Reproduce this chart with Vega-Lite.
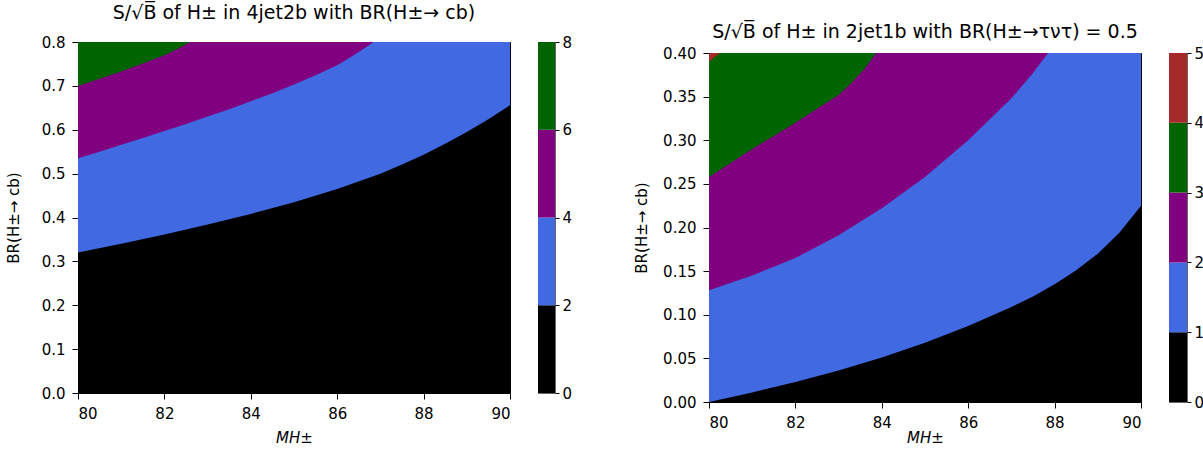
{
  "$schema": "https://vega.github.io/schema/vega-lite/v6.json",
  "padding": {"left": 5, "top": 3, "right": 0, "bottom": 0},
  "config": {
    "font": "DejaVu Sans",
    "view": {"stroke": "black", "strokeWidth": 1},
    "axis": {
      "grid": false, "domain": false,
      "labelFont": "DejaVu Sans", "labelFontSize": 15, "labelColor": "black",
      "titleFont": "DejaVu Sans", "titleFontSize": 15, "titleFontWeight": "normal", "titleColor": "black",
      "tickColor": "black", "tickSize": 6, "labelPadding": 7
    },
    "title": {"font": "DejaVu Sans", "fontSize": 19, "fontWeight": "normal", "color": "black"}
  },
  "datasets": {
    "contours": [
      {"panel": "A", "tier": 3, "M": 80, "br": 0.8},
      {"panel": "A", "tier": 3, "M": 90, "br": 0.8},
      {"panel": "A", "tier": 2, "M": 80, "br": 0.700},
      {"panel": "A", "tier": 2, "M": 80.5, "br": 0.716},
      {"panel": "A", "tier": 2, "M": 81, "br": 0.733},
      {"panel": "A", "tier": 2, "M": 81.5, "br": 0.751},
      {"panel": "A", "tier": 2, "M": 82, "br": 0.770},
      {"panel": "A", "tier": 2, "M": 82.3, "br": 0.784},
      {"panel": "A", "tier": 2, "M": 82.6, "br": 0.800},
      {"panel": "A", "tier": 2, "M": 90, "br": 0.800},
      {"panel": "A", "tier": 1, "M": 80, "br": 0.535},
      {"panel": "A", "tier": 1, "M": 80.5, "br": 0.550},
      {"panel": "A", "tier": 1, "M": 81, "br": 0.566},
      {"panel": "A", "tier": 1, "M": 81.5, "br": 0.581},
      {"panel": "A", "tier": 1, "M": 82, "br": 0.597},
      {"panel": "A", "tier": 1, "M": 82.5, "br": 0.613},
      {"panel": "A", "tier": 1, "M": 83, "br": 0.630},
      {"panel": "A", "tier": 1, "M": 83.5, "br": 0.647},
      {"panel": "A", "tier": 1, "M": 84, "br": 0.665},
      {"panel": "A", "tier": 1, "M": 84.5, "br": 0.683},
      {"panel": "A", "tier": 1, "M": 85, "br": 0.703},
      {"panel": "A", "tier": 1, "M": 85.5, "br": 0.724},
      {"panel": "A", "tier": 1, "M": 86, "br": 0.747},
      {"panel": "A", "tier": 1, "M": 86.4, "br": 0.771},
      {"panel": "A", "tier": 1, "M": 86.85, "br": 0.800},
      {"panel": "A", "tier": 1, "M": 90, "br": 0.800},
      {"panel": "A", "tier": 0, "M": 80, "br": 0.320},
      {"panel": "A", "tier": 0, "M": 81, "br": 0.340},
      {"panel": "A", "tier": 0, "M": 82, "br": 0.361},
      {"panel": "A", "tier": 0, "M": 83, "br": 0.384},
      {"panel": "A", "tier": 0, "M": 84, "br": 0.408},
      {"panel": "A", "tier": 0, "M": 85, "br": 0.435},
      {"panel": "A", "tier": 0, "M": 86, "br": 0.465},
      {"panel": "A", "tier": 0, "M": 87, "br": 0.500},
      {"panel": "A", "tier": 0, "M": 87.5, "br": 0.521},
      {"panel": "A", "tier": 0, "M": 88, "br": 0.543},
      {"panel": "A", "tier": 0, "M": 88.5, "br": 0.568},
      {"panel": "A", "tier": 0, "M": 89, "br": 0.595},
      {"panel": "A", "tier": 0, "M": 89.5, "br": 0.624},
      {"panel": "A", "tier": 0, "M": 90, "br": 0.656},
      {"panel": "B", "tier": 4, "M": 80, "br": 0.4},
      {"panel": "B", "tier": 4, "M": 90, "br": 0.4},
      {"panel": "B", "tier": 3, "M": 80, "br": 0.390},
      {"panel": "B", "tier": 3, "M": 80.25, "br": 0.400},
      {"panel": "B", "tier": 3, "M": 90, "br": 0.400},
      {"panel": "B", "tier": 2, "M": 80, "br": 0.258},
      {"panel": "B", "tier": 2, "M": 80.5, "br": 0.274},
      {"panel": "B", "tier": 2, "M": 81, "br": 0.290},
      {"panel": "B", "tier": 2, "M": 81.5, "br": 0.305},
      {"panel": "B", "tier": 2, "M": 82, "br": 0.320},
      {"panel": "B", "tier": 2, "M": 82.5, "br": 0.336},
      {"panel": "B", "tier": 2, "M": 83, "br": 0.352},
      {"panel": "B", "tier": 2, "M": 83.3, "br": 0.366},
      {"panel": "B", "tier": 2, "M": 83.6, "br": 0.382},
      {"panel": "B", "tier": 2, "M": 83.87, "br": 0.400},
      {"panel": "B", "tier": 2, "M": 90, "br": 0.400},
      {"panel": "B", "tier": 1, "M": 80, "br": 0.128},
      {"panel": "B", "tier": 1, "M": 81, "br": 0.145},
      {"panel": "B", "tier": 1, "M": 82, "br": 0.165},
      {"panel": "B", "tier": 1, "M": 83, "br": 0.191},
      {"panel": "B", "tier": 1, "M": 84, "br": 0.222},
      {"panel": "B", "tier": 1, "M": 85, "br": 0.258},
      {"panel": "B", "tier": 1, "M": 86, "br": 0.300},
      {"panel": "B", "tier": 1, "M": 87, "br": 0.348},
      {"panel": "B", "tier": 1, "M": 87.5, "br": 0.377},
      {"panel": "B", "tier": 1, "M": 87.85, "br": 0.400},
      {"panel": "B", "tier": 1, "M": 90, "br": 0.400},
      {"panel": "B", "tier": 0, "M": 80, "br": 0.000},
      {"panel": "B", "tier": 0, "M": 81, "br": 0.011},
      {"panel": "B", "tier": 0, "M": 82, "br": 0.023},
      {"panel": "B", "tier": 0, "M": 83, "br": 0.036},
      {"panel": "B", "tier": 0, "M": 84, "br": 0.051},
      {"panel": "B", "tier": 0, "M": 85, "br": 0.068},
      {"panel": "B", "tier": 0, "M": 86, "br": 0.087},
      {"panel": "B", "tier": 0, "M": 87, "br": 0.109},
      {"panel": "B", "tier": 0, "M": 87.5, "br": 0.121},
      {"panel": "B", "tier": 0, "M": 88, "br": 0.135},
      {"panel": "B", "tier": 0, "M": 88.5, "br": 0.151},
      {"panel": "B", "tier": 0, "M": 89, "br": 0.170},
      {"panel": "B", "tier": 0, "M": 89.5, "br": 0.194},
      {"panel": "B", "tier": 0, "M": 90, "br": 0.225}
    ],
    "colorbar": [
      {"panel": "A", "tier": 0, "lo": 0, "hi": 2},
      {"panel": "A", "tier": 1, "lo": 2, "hi": 4},
      {"panel": "A", "tier": 2, "lo": 4, "hi": 6},
      {"panel": "A", "tier": 3, "lo": 6, "hi": 8},
      {"panel": "B", "tier": 0, "lo": 0, "hi": 1},
      {"panel": "B", "tier": 1, "lo": 1, "hi": 2},
      {"panel": "B", "tier": 2, "lo": 2, "hi": 3},
      {"panel": "B", "tier": 3, "lo": 3, "hi": 4},
      {"panel": "B", "tier": 4, "lo": 4, "hi": 5}
    ]
  },
  "spacing": 61,
  "hconcat": [
    {
      "bounds": "flush",
      "spacing": 28,
      "hconcat": [
        {
          "width": 432,
          "height": 351,
          "title": {"text": "S/\u221aB\u0305 of H\u00b1 in 4jet2b with BR(H\u00b1\u2192 cb)", "offset": 12},
          "data": {"name": "contours"},
          "transform": [{"filter": "datum.panel === 'A'"}],
          "encoding": {
            "x": {"field": "M", "type": "quantitative", "scale": {"domain": [80, 90], "nice": false, "zero": false},
                  "axis": {"values": [80, 82, 84, 86, 88, 90], "title": "MH\u00b1", "titleFontStyle": "italic", "titlePadding": 9}},
            "y": {"field": "br", "type": "quantitative", "stack": null, "scale": {"domain": [0, 0.8], "nice": false},
                  "axis": {"values": [0, 0.1, 0.2, 0.3, 0.4, 0.5, 0.6, 0.7, 0.8], "format": ".1f", "title": "BR(H\u00b1\u2192 cb)", "titlePadding": 20}},
            "color": {"field": "tier", "type": "ordinal", "legend": null,
                      "scale": {"domain": [0, 1, 2, 3, 4], "range": ["#000000", "#4169e1", "#800080", "#006400", "#a52a2a"]}}
          },
          "layer": [
            {"transform": [{"filter": "datum.tier === 3"}], "mark": {"type": "area", "interpolate": "linear", "clip": true}},
            {"transform": [{"filter": "datum.tier === 2"}], "mark": {"type": "area", "interpolate": "linear", "clip": true}},
            {"transform": [{"filter": "datum.tier === 1"}], "mark": {"type": "area", "interpolate": "linear", "clip": true}},
            {"transform": [{"filter": "datum.tier === 0"}], "mark": {"type": "area", "interpolate": "linear", "clip": true}}
          ]
        },
        {
          "width": 17,
          "height": 351,
          "view": {"stroke": "#666666"},
          "data": {"name": "colorbar"},
          "transform": [{"filter": "datum.panel === 'A'"}],
          "mark": {"type": "rect"},
          "encoding": {
            "x": {"value": 0},
            "x2": {"value": "width"},
            "y": {"field": "lo", "type": "quantitative", "scale": {"domain": [0, 8], "nice": false},
                  "axis": {"orient": "right", "values": [0, 2, 4, 6, 8], "format": "d", "title": null, "tickSize": 4, "labelPadding": 3}},
            "y2": {"field": "hi"},
            "color": {"field": "tier", "type": "ordinal", "legend": null,
                      "scale": {"domain": [0, 1, 2, 3, 4], "range": ["#000000", "#4169e1", "#800080", "#006400", "#a52a2a"]}}
          }
        }
      ]
    },
    {
      "spacing": 2,
      "vconcat": [
        {
          "width": 432,
          "height": 1,
          "view": {"stroke": null},
          "title": {"text": "S/\u221aB\u0305 of H\u00b1 in 2jet1b with BR(H\u00b1\u2192\u03c4\u03bd\u03c4) = 0.5", "offset": 0},
          "data": {"values": []},
          "mark": {"type": "point", "opacity": 0},
          "encoding": {}
        },
        {
          "bounds": "flush",
          "spacing": 28,
          "hconcat": [
            {
              "width": 432,
              "height": 349,
              "data": {"name": "contours"},
              "transform": [{"filter": "datum.panel === 'B'"}],
              "encoding": {
                "x": {"field": "M", "type": "quantitative", "scale": {"domain": [80, 90], "nice": false, "zero": false},
                      "axis": {"values": [80, 82, 84, 86, 88, 90], "title": "MH\u00b1", "titleFontStyle": "italic", "titlePadding": 0}},
                "y": {"field": "br", "type": "quantitative", "stack": null, "scale": {"domain": [0, 0.4], "nice": false},
                      "axis": {"values": [0, 0.05, 0.1, 0.15, 0.2, 0.25, 0.3, 0.35, 0.4], "format": ".2f", "title": "BR(H\u00b1\u2192 cb)", "titlePadding": 13}},
                "color": {"field": "tier", "type": "ordinal", "legend": null,
                          "scale": {"domain": [0, 1, 2, 3, 4], "range": ["#000000", "#4169e1", "#800080", "#006400", "#a52a2a"]}}
              },
              "layer": [
                {"transform": [{"filter": "datum.tier === 4"}], "mark": {"type": "area", "interpolate": "linear", "clip": true}},
                {"transform": [{"filter": "datum.tier === 3"}], "mark": {"type": "area", "interpolate": "linear", "clip": true}},
                {"transform": [{"filter": "datum.tier === 2"}], "mark": {"type": "area", "interpolate": "linear", "clip": true}},
                {"transform": [{"filter": "datum.tier === 1"}], "mark": {"type": "area", "interpolate": "linear", "clip": true}},
                {"transform": [{"filter": "datum.tier === 0"}], "mark": {"type": "area", "interpolate": "linear", "clip": true}}
              ]
            },
            {
              "width": 18,
              "height": 349,
              "view": {"stroke": "#666666"},
              "data": {"name": "colorbar"},
              "transform": [{"filter": "datum.panel === 'B'"}],
              "mark": {"type": "rect"},
              "encoding": {
                "x": {"value": 0},
                "x2": {"value": "width"},
                "y": {"field": "lo", "type": "quantitative", "scale": {"domain": [0, 5], "nice": false},
                      "axis": {"orient": "right", "values": [0, 1, 2, 3, 4, 5], "format": "d", "title": null, "tickSize": 4, "labelPadding": 3}},
                "y2": {"field": "hi"},
                "color": {"field": "tier", "type": "ordinal", "legend": null,
                          "scale": {"domain": [0, 1, 2, 3, 4], "range": ["#000000", "#4169e1", "#800080", "#006400", "#a52a2a"]}}
              }
            }
          ]
        }
      ]
    }
  ]
}
